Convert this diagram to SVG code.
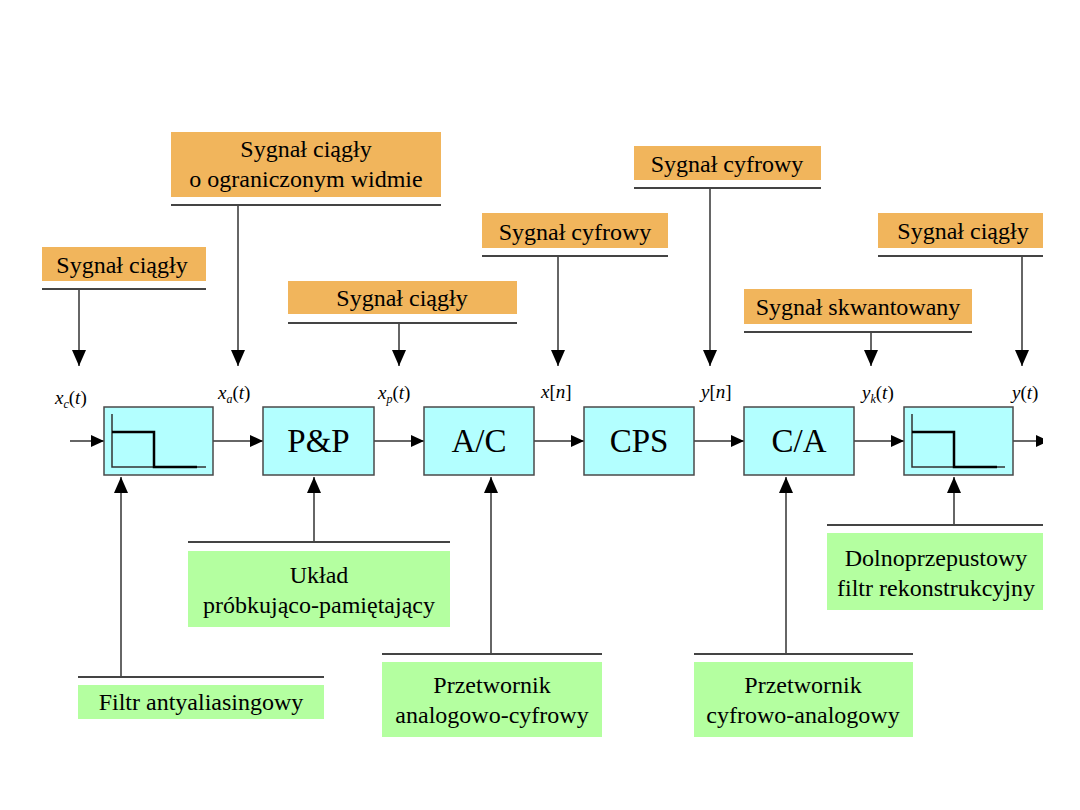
<svg xmlns="http://www.w3.org/2000/svg" width="1080" height="810" viewBox="0 0 1080 810">
<style>
.blk{fill:#b3ffff;stroke:#4a4a4a;stroke-width:1.5}
.org{fill:#f1b55c}
.grn{fill:#b4ffa0}
.ul{stroke:#444;stroke-width:2;fill:none}
.ln{stroke:#333;stroke-width:1.5;fill:none}
.ax{stroke:#333;stroke-width:1.5;fill:none}
.st{stroke:#000;stroke-width:2.5;fill:none}
.t{font-family:'Liberation Serif','DejaVu Serif','Times New Roman',Times,serif;font-size:24px;fill:#000;text-anchor:middle}
.bt{font-family:'Liberation Serif','DejaVu Serif','Times New Roman',Times,serif;font-size:33px;fill:#000;text-anchor:middle}
.sig{font-family:'Liberation Serif','DejaVu Serif','Times New Roman',Times,serif;font-size:19px;fill:#000}
.it{font-style:italic}
.sub{font-style:italic;font-size:12px}
</style>
<defs>
<marker id="ah" markerUnits="userSpaceOnUse" markerWidth="14" markerHeight="12" refX="13" refY="6" orient="auto">
<path d="M0,0 L13,6 L0,12 Z" fill="#000"/>
</marker>
<marker id="av" markerUnits="userSpaceOnUse" markerWidth="16" markerHeight="14" refX="16" refY="7" orient="auto">
<path d="M0,0 L16,7 L0,14 Z" fill="#000"/>
</marker>
<clipPath id="page"><rect x="0" y="0" width="1043" height="810"/></clipPath>
</defs>
<rect width="1080" height="810" fill="#fff"/>

<g id="connectors">
<path class="ln" d="M70,441 H104" marker-end="url(#ah)"/>
<path class="ln" d="M213,441 H263" marker-end="url(#ah)"/>
<path class="ln" d="M374,441 H424" marker-end="url(#ah)"/>
<path class="ln" d="M534,441 H584" marker-end="url(#ah)"/>
<path class="ln" d="M694,441 H744" marker-end="url(#ah)"/>
<path class="ln" d="M854,441 H904" marker-end="url(#ah)"/>
<g clip-path="url(#page)"><path class="ln" d="M1013,441 H1049" marker-end="url(#ah)"/></g>
<path class="ln" d="M79,289 V366" marker-end="url(#av)"/>
<path class="ln" d="M238,205 V366" marker-end="url(#av)"/>
<path class="ln" d="M399,323 V366" marker-end="url(#av)"/>
<path class="ln" d="M558,256 V366" marker-end="url(#av)"/>
<path class="ln" d="M710,188 V366" marker-end="url(#av)"/>
<path class="ln" d="M871,332 V366" marker-end="url(#av)"/>
<path class="ln" d="M1022,256 V366" marker-end="url(#av)"/>
<path class="ln" d="M121,677 V477" marker-end="url(#av)"/>
<path class="ln" d="M314,542 V477" marker-end="url(#av)"/>
<path class="ln" d="M491,654 V477" marker-end="url(#av)"/>
<path class="ln" d="M786,654 V477" marker-end="url(#av)"/>
<path class="ln" d="M954,525 V477" marker-end="url(#av)"/>
</g>

<g id="filter1">
<rect class="blk" x="104" y="407" width="109" height="68"/>
<path class="ax" d="M112,414 V467 H206"/>
<path class="st" d="M112,432 H154 V467 H197"/>
</g>
<g id="pp"><rect class="blk" x="263" y="407" width="111" height="68"/><text class="bt" x="318.5" y="452">P&amp;P</text></g>
<g id="ac"><rect class="blk" x="424" y="407" width="110" height="68"/><text class="bt" x="479" y="452">A/C</text></g>
<g id="cps"><rect class="blk" x="584" y="407" width="110" height="68"/><text class="bt" x="639" y="452">CPS</text></g>
<g id="ca"><rect class="blk" x="744" y="407" width="110" height="68"/><text class="bt" x="799" y="452">C/A</text></g>
<g id="filter2">
<rect class="blk" x="904" y="407" width="109" height="68"/>
<path class="ax" d="M912,414 V467 H1005"/>
<path class="st" d="M912,432 H954 V467 H997"/>
</g>

<g id="sig-labels">
<text class="sig" x="55" y="404"><tspan class="it">x</tspan><tspan class="sub" dy="4">c</tspan><tspan dy="-4">(</tspan><tspan class="it">t</tspan>)</text>
<text class="sig" x="218" y="399"><tspan class="it">x</tspan><tspan class="sub" dy="4">a</tspan><tspan dy="-4">(</tspan><tspan class="it">t</tspan>)</text>
<text class="sig" x="378" y="399"><tspan class="it">x</tspan><tspan class="sub" dy="4">p</tspan><tspan dy="-4">(</tspan><tspan class="it">t</tspan>)</text>
<text class="sig" x="541" y="398"><tspan class="it">x</tspan>[<tspan class="it">n</tspan>]</text>
<text class="sig" x="701" y="398"><tspan class="it">y</tspan>[<tspan class="it">n</tspan>]</text>
<text class="sig" x="862" y="399"><tspan class="it">y</tspan><tspan class="sub" dy="4">k</tspan><tspan dy="-4">(</tspan><tspan class="it">t</tspan>)</text>
<text class="sig" x="1012" y="399"><tspan class="it">y</tspan>(<tspan class="it">t</tspan>)</text>
</g>

<g id="lbl-ciagly1"><rect class="org" x="42" y="247" width="164" height="34"/><line class="ul" x1="42" y1="289" x2="206" y2="289"/><text class="t" x="122" y="273">Sygnał ciągły</text></g>
<g id="lbl-widmo"><rect class="org" x="171" y="132" width="270" height="65"/><line class="ul" x1="171" y1="205" x2="441" y2="205"/><text class="t" x="306" y="157">Sygnał ciągły</text><text class="t" x="306" y="187">o ograniczonym widmie</text></g>
<g id="lbl-ciagly2"><rect class="org" x="288" y="281" width="229" height="33"/><line class="ul" x1="288" y1="323" x2="517" y2="323"/><text class="t" x="402" y="306">Sygnał ciągły</text></g>
<g id="lbl-cyfrowy1"><rect class="org" x="482" y="213" width="186" height="35"/><line class="ul" x1="482" y1="256" x2="668" y2="256"/><text class="t" x="575" y="240">Sygnał cyfrowy</text></g>
<g id="lbl-cyfrowy2"><rect class="org" x="634" y="146" width="187" height="34"/><line class="ul" x1="634" y1="188" x2="821" y2="188"/><text class="t" x="727" y="172">Sygnał cyfrowy</text></g>
<g id="lbl-skwant"><rect class="org" x="744" y="289" width="228" height="35"/><line class="ul" x1="744" y1="332" x2="972" y2="332"/><text class="t" x="858" y="315">Sygnał skwantowany</text></g>
<g id="lbl-ciagly3"><rect class="org" x="878" y="213" width="165" height="35"/><line class="ul" x1="878" y1="256" x2="1043" y2="256"/><text class="t" x="963" y="239">Sygnał ciągły</text></g>

<g id="lbl-uklad"><rect class="grn" x="188" y="551" width="262" height="76"/><line class="ul" x1="188" y1="542" x2="450" y2="542"/><text class="t" x="319" y="583">Układ</text><text class="t" x="319" y="613">próbkująco-pamiętający</text></g>
<g id="lbl-filtr"><rect class="grn" x="78" y="685" width="246" height="34"/><line class="ul" x1="78" y1="677" x2="324" y2="677"/><text class="t" x="201" y="710">Filtr antyaliasingowy</text></g>
<g id="lbl-ac"><rect class="grn" x="382" y="662" width="220" height="75"/><line class="ul" x1="382" y1="654" x2="602" y2="654"/><text class="t" x="492" y="693">Przetwornik</text><text class="t" x="492" y="723">analogowo-cyfrowy</text></g>
<g id="lbl-ca"><rect class="grn" x="694" y="662" width="219" height="75"/><line class="ul" x1="694" y1="654" x2="913" y2="654"/><text class="t" x="803" y="693">Przetwornik</text><text class="t" x="803" y="723">cyfrowo-analogowy</text></g>
<g id="lbl-dolno"><rect class="grn" x="827" y="533" width="216" height="77"/><line class="ul" x1="827" y1="525" x2="1043" y2="525"/><text class="t" x="936" y="566">Dolnoprzepustowy</text><text class="t" x="936" y="596">filtr rekonstrukcyjny</text></g>
</svg>
